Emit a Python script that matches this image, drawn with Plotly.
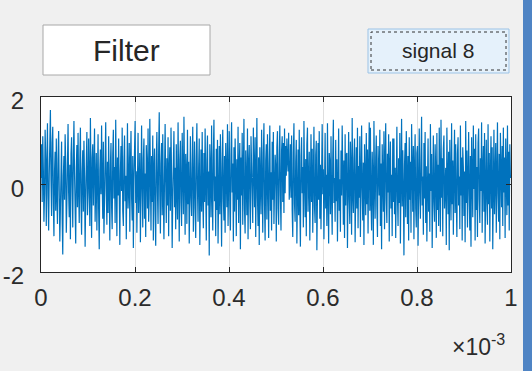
import numpy as np
import plotly.graph_objects as go

# ---- data ----
signal_values = [
    0.15, 0.92, -0.40, 1.10, 0.35, -0.85, -0.20, 1.25, 0.60, -0.95, 0.48, 1.40, -0.30, -1.05, 0.22, 0.88, 1.70, 0.10, -0.72, 0.95,
    1.32, -0.45, -1.18, 0.30, 0.75, -0.60, 1.05, -0.25, -0.90, 0.58, 1.22, -0.15, -1.30, -0.55, 0.40, 0.98, -0.80, -1.60, 0.20, 0.65,
    -0.35, 1.15, 0.50, -1.10, -0.42, 0.82, 1.38, -0.20, -0.75, 0.45, -1.25, 0.70, 1.08, -0.05, -0.98, 0.62, 1.45, 0.25, -0.66, -1.35,
    0.38, 0.90, -0.52, 1.18, -0.12, -0.88, 0.55, 1.30, -0.40, -1.15, 0.28, 0.78, -0.62, 1.00, 0.18, -1.42, -0.30, 0.85, 1.20, -0.70,
    -0.18, 1.05, 0.42, -0.95, 1.52, -0.28, -1.22, 0.60, 0.92, -0.48, 0.15, 1.28, -0.85, -0.35, 0.72, -1.05, 0.50, 1.15, -0.58, -1.48,
    0.32, 0.80, -0.22, 1.35, 0.05, -0.78, 0.98, -1.12, -0.40, 0.68, 1.42, -0.10, -0.92, 0.52, -0.65, 1.10, 0.28, -1.28, 0.45, 0.95,
    -0.50, -1.02, 0.70, 1.25, -0.32, 0.40, -0.88, 1.48, 0.12, -1.18, 0.62, -0.25, 1.05, -0.72, -1.38, 0.30, 0.88, -0.15, 1.30, -0.60,
    -0.95, 0.55, 1.12, -0.38, 0.20, -1.25, 0.78, 1.40, -0.55, -0.10, 0.95, -1.08, 0.45, 1.22, -0.30, -0.82, 0.65, -1.45, 0.10, 1.02,
    1.45, -0.42, 0.30, -1.10, 0.85, 1.18, -0.65, -0.20, 0.72, -1.32, 0.48, 1.35, -0.12, -0.98, 0.58, 1.05, -0.78, 0.25, -1.20, 0.90,
    0.40, -0.55, 1.28, -0.85, -0.30, 1.50, 0.18, -1.05, 0.65, -0.40, 1.12, -1.28, 0.35, 0.82, -0.62, -1.40, 0.55, 1.20, -0.18, -0.90,
    0.75, 1.65, -0.25, -1.12, 0.48, 0.95, -0.70, 1.15, -0.35, -1.25, 0.22, 1.38, 0.05, -0.88, 0.60, -0.48, 1.08, -1.18, 0.32, 0.85,
    -0.60, 1.30, 0.15, -1.45, -0.28, 0.78, 1.22, -0.52, 0.38, -1.02, 0.92, -0.15, -0.80, 1.42, 0.25, -1.30, 0.58, 1.00, -0.42, -0.95,
    1.18, 0.35, -0.68, 1.55, -0.20, -1.15, 0.70, 0.28, -0.90, 1.25, -0.45, 0.52, -1.35, 0.85, 1.10, -0.30, -0.72, 0.45, 1.32, -1.08,
    0.20, 0.98, -0.55, -1.22, 0.62, 1.40, -0.12, -0.85, 0.38, 1.05, -1.38, 0.15, 0.80, -0.62, 1.20, -0.25, -1.00, 0.72, -0.40, 1.28,
    -0.15, -1.28, 0.55, 1.12, -0.48, 0.30, -1.62, 0.92, 0.40, -0.75, 1.35, -0.20, -1.05, 0.68, 1.48, -0.38, 0.18, -1.18, 0.82, -0.58,
    1.02, -1.35, 0.25, 0.88, -0.68, 1.15, -0.10, -1.42, 0.50, 1.25, -0.32, -0.82, 0.65, -1.10, 0.95, 0.30, -0.52, 1.38, -0.95, 0.12,
    1.22, -0.45, -1.05, 0.70, 1.42, -0.18, 0.48, -1.30, 0.85, -0.62, 1.05, 0.22, -1.18, 0.58, -0.35, 1.32, -0.88, 0.40, 0.95, -1.48,
    0.62, -0.25, 1.18, -0.92, 0.35, 1.50, -0.58, -1.12, 0.78, 0.15, -0.70, 1.28, -1.25, 0.45, 0.90, -0.40, -1.02, 1.10, 0.28, -0.65,
    -0.88, 1.30, 0.38, -0.52, 1.08, -1.20, 0.18, 1.52, -0.30, -0.95, 0.62, -1.38, 0.85, 0.20, -0.68, 1.25, -0.15, -1.10, 0.72, 1.40,
    -0.45, -1.28, 0.55, 0.92, -0.80, 1.15, 0.08, -1.22, 0.48, 1.35, -0.60, 0.28, -1.05, 0.98, -0.35, 1.20, -0.90, -0.22, 0.68, 0.40,
    -1.30, 0.85, 1.22, -0.55, -0.92, 0.60, 1.35, -0.25, -1.05, 0.78, 1.10, -0.40, 0.95, -0.65, 1.28, -0.20, 0.88, 0.20, 1.05, 0.55,
    0.30, 1.18, -0.35, 0.10, 0.92, -0.30, 1.12, -0.60, -1.20, 0.72, 1.40, -0.45, -0.85, 0.52, 1.02, -1.35, 0.25, 0.80, -0.70, 1.25,
    -0.48, -1.42, 0.65, 1.08, -0.20, 0.40, -0.98, 1.45, 0.18, -0.75, 0.58, -1.18, 0.92, 1.30, -0.62, -0.10, 0.75, -1.28, 0.35, 1.15,
    -0.40, 0.82, -1.10, 0.25, 1.32, -0.52, -0.88, 0.68, 1.00, -1.50, 0.15, 0.95, -0.35, 1.22, -0.78, 0.45, -1.02, 0.60, 1.38, -0.22,
    0.35, -1.25, 0.88, 1.18, -0.55, 0.22, -0.95, 1.40, -0.18, -1.35, 0.72, 0.48, -0.68, 1.10, -0.28, -1.15, 0.62, 1.48, -0.42, 0.15,
    -0.85, 1.02, -0.38, 0.58, -1.30, 0.90, 1.28, -0.60, 0.12, -1.08, 0.78, -0.25, 1.35, 0.30, -0.92, 0.55, -1.22, 1.15, -0.48, 0.68,
    0.72, -1.45, 0.28, 1.20, -0.35, -0.90, 0.98, 0.40, -1.15, 1.52, -0.22, -0.65, 0.58, 1.05, -1.32, 0.18, 0.85, -0.55, 1.30, -1.00,
    0.42, -0.30, 1.10, -1.20, 0.65, 1.35, -0.12, -0.82, 0.50, -1.38, 0.92, 0.25, -0.70, 1.18, -0.45, 0.80, -1.12, 0.38, 1.42, -0.60,
    1.30, -0.40, -1.05, 0.75, 0.20, -1.38, 1.45, 0.05, -0.78, 0.62, 1.12, -0.50, -1.20, 0.88, 0.35, -0.25, 1.25, -0.95, 0.48, -1.48,
    0.92, 0.30, -0.62, 1.22, -1.02, 0.55, 1.40, -0.35, -0.88, 0.70, -0.18, 1.15, -1.30, 0.42, 0.98, -0.55, 0.22, -1.18, 1.05, -0.40,
    1.05, -0.68, 0.38, -1.22, 0.85, 1.32, -0.28, -0.95, 0.60, -0.42, 1.18, -1.35, 0.15, 1.50, -0.50, 0.78, -0.12, -1.62, 0.45, 0.95,
    -0.75, 1.22, 0.28, -0.90, 0.65, -1.28, 1.08, -0.35, 0.52, -1.10, 1.38, 0.10, -0.62, 0.88, -1.25, 0.40, 1.15, -0.55, -0.98, 0.72,
    0.88, -1.40, 0.35, 1.28, -0.20, -0.78, 0.60, 1.55, -0.48, 0.18, -1.15, 0.95, -0.32, 1.20, -0.88, 0.42, -1.30, 0.78, 1.05, -0.62,
    0.25, -1.08, 1.38, -0.15, 0.70, -1.45, 0.50, 1.12, -0.40, -0.85, 0.92, 0.30, -1.22, 1.18, -0.58, 0.45, -0.95, 1.30, 0.12, -1.08,
    1.48, -0.30, 0.60, -1.18, 0.82, 1.12, -0.55, -0.20, 0.38, -1.38, 1.30, 0.22, -0.68, 0.75, -1.50, 1.02, -0.12, -0.82, 1.40, -0.45,
    0.55, -1.15, 0.28, 1.25, -0.65, 0.92, -0.35, -1.20, 0.70, 1.08, -0.48, 0.18, -1.02, 1.35, -0.25, 0.62, -1.28, 0.85, 0.40, -0.72,
    0.30, -1.32, 1.45, -0.42, 0.78, -0.98, 0.50, 1.20, -0.25, -1.05, 0.65, -1.42, 1.08, 0.20, -0.75, 1.35, -0.10, 0.82, -1.28, 1.15,
    -0.58, 0.40, -1.20, 0.95, 1.28, -0.35, -0.88, 0.60, -0.15, 1.42, -1.10, 0.32, 0.88, -0.62, 1.18, -1.35, 0.48, 1.02, -0.40, -0.92,
    1.38, -0.45, 0.72, -1.30, 0.25, 1.10, -0.55, 0.85, -1.48, 0.38, 1.25, -0.68, 0.12, 0.95, -1.10, 0.58, 1.42, -0.22, -0.85, 0.70,
    -1.25, 1.18, 0.30, -0.52, 0.88, -0.95, 1.30, -0.18, 0.62, -1.22, 1.05, 0.40, -0.70, 1.35, -0.48, 0.75, -1.05, 0.92, 0.15, 0.20,
]
duration_s = 1e-3
x_tick_values = [0, 0.0002, 0.0004, 0.0006, 0.0008, 0.001]
x_tick_labels = ["0", "0.2", "0.4", "0.6", "0.8", "1"]
y_tick_values = [-2, 0, 2]
y_tick_labels = ["-2", "0", "2"]
filter_label = "Filter"
button_label = "signal 8"
exponent_label = "\u00d710<sup>-3</sup>"

n = len(signal_values)
time_s = np.arange(n) * (duration_s / (n - 1))

# ---- layout geometry (pixels) ----
W, H = 532, 371
PL, PR, PT, PB = 41, 511, 97, 272


def px(xp):
    return (xp - PL) / (PR - PL)


def py(yp):
    return (PB - yp) / (PB - PT)


FONT = "Liberation Sans, Arial, sans-serif"
TEXT = "#2b2b2b"

fig = go.Figure()
fig.add_trace(go.Scatter(
    x=time_s, y=signal_values, mode="lines",
    line=dict(color="#0072BD", width=1.2), hoverinfo="skip", showlegend=False,
))

axis_common = dict(
    showline=True, linecolor="#262626", linewidth=1, mirror="ticks",
    ticks="inside", ticklen=5, tickcolor="#262626", tickwidth=1,
    zeroline=False, automargin=False,
    tickfont=dict(family=FONT, size=24, color=TEXT),
)

fig.update_xaxes(
    range=[0, duration_s], tickvals=x_tick_values, ticktext=x_tick_labels,
    showgrid=True, gridcolor="#dedede", gridwidth=1, ticklabelstandoff=4,
    **axis_common,
)
fig.update_yaxes(
    range=[-2, 2], tickvals=y_tick_values, ticktext=y_tick_labels,
    showgrid=False, ticklabelstandoff=11, ticklabelshift=4,
    **axis_common,
)

shapes = [
    # Filter box
    dict(type="rect", xref="paper", yref="paper",
         x0=px(43), x1=px(210), y0=py(75), y1=py(25),
         fillcolor="#ffffff", line=dict(color="#a8a8a8", width=1), layer="above"),
    # signal 8 button
    dict(type="rect", xref="paper", yref="paper",
         x0=px(368), x1=px(509), y0=py(73), y1=py(29),
         fillcolor="#e5f1fb", line=dict(color="#9cc3e6", width=1), layer="above"),
    dict(type="rect", xref="paper", yref="paper",
         x0=px(371), x1=px(506), y0=py(70), y1=py(32),
         fillcolor="rgba(0,0,0,0)", line=dict(color="#333333", width=1, dash="dot"), layer="above"),
    # right blue bar
    dict(type="rect", xref="paper", yref="paper",
         x0=px(523), x1=px(533), y0=py(372), y1=py(-2),
         fillcolor="#4f84c4", line=dict(width=0), layer="above"),
]

annotations = [
    dict(text=filter_label, xref="paper", yref="paper", x=px(126), y=py(51),
         xanchor="center", yanchor="middle", showarrow=False,
         font=dict(family=FONT, size=30, color="#262626")),
    dict(text=button_label, xref="paper", yref="paper", x=px(438), y=py(51),
         xanchor="center", yanchor="middle", showarrow=False,
         font=dict(family=FONT, size=21, color="#262626")),
    dict(text=exponent_label, xref="paper", yref="paper", x=px(507), y=py(345),
         xanchor="right", yanchor="middle", showarrow=False,
         font=dict(family=FONT, size=23, color=TEXT)),
]

fig.update_layout(
    width=W, height=H, autosize=False,
    margin=dict(l=PL, r=W - PR, t=PT, b=H - PB, pad=0, autoexpand=False),
    paper_bgcolor="#f0f0f0", plot_bgcolor="#ffffff",
    shapes=shapes, annotations=annotations,
    showlegend=False,
)

fig.write_html(
    "out.html",
    config={"displayModeBar": False},
    post_script="document.body.style.margin='0px';document.body.style.overflow='hidden';",
)
